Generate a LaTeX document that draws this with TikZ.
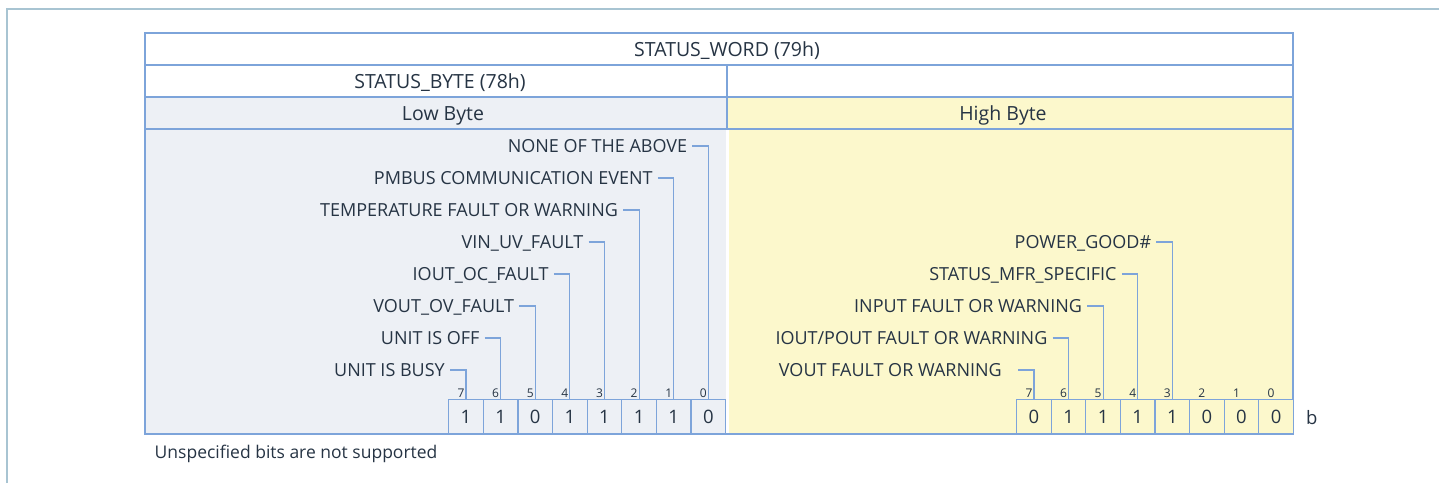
\documentclass[tikz,border=0pt]{standalone}
\usepackage{fontspec}
\setmainfont{Open Sans}
\definecolor{ink}{RGB}{38,52,68}
\definecolor{rule}{RGB}{125,164,218}
\definecolor{pageframe}{RGB}{168,196,210}
\definecolor{lowfill}{RGB}{237,240,245}
\definecolor{highfill}{RGB}{252,248,204}

\tikzset{
  cell/.style={draw=rule, line width=1.3pt, inner sep=0pt, outer sep=0pt, anchor=north west},
  panel/.style={inner sep=0pt, outer sep=0pt, anchor=north west},
  head/.style={text=ink, inner sep=0pt, text height=13.9pt, text depth=0pt,
               font=\fontsize{19.5}{22}\selectfont},
  flag/.style={text=ink, inner sep=0pt, anchor=east, text height=12.9pt, text depth=0pt,
               font=\fontsize{18}{20}\selectfont},
  bitbox/.style={draw=rule, line width=1.2pt, inner sep=0pt, outer sep=0pt, anchor=north west,
               minimum width=34.6pt, minimum height=34.2pt, text=ink,
               text height=13.2pt, text depth=0pt, font=\fontsize{18.5}{20}\selectfont},
  bitnum/.style={text=ink, inner sep=0pt, anchor=base, font=\fontsize{12}{13}\selectfont},
  leader/.style={draw=rule, line width=1.1pt},
}

\begin{document}
\begin{tikzpicture}[x=1pt, y=-1pt]
\useasboundingbox (0,0) rectangle (1439,483);

% page frame
\draw[pageframe, line width=1.5pt] (7,483) -- (7,9) -- (1439,9);

% body panels
\node[panel, fill=lowfill, minimum width=581pt, minimum height=305pt] (lowbody) at (145,129) {};
\node[panel, fill=highfill, minimum width=564pt, minimum height=305pt] (highbody) at (729,129) {};
\draw[rule, line width=1.3pt] (lowbody.north west) |- (highbody.south east) -- (highbody.north east);

% header rows
\node[cell, fill=white, minimum width=1148pt, minimum height=32pt] (word) at (145,33) {};
\node[cell, fill=white, minimum width=582pt, minimum height=32pt] (sbyte) at (145,65) {};
\node[cell, fill=white, minimum width=566pt, minimum height=32pt] (sbyterest) at (727,65) {};
\node[cell, fill=lowfill, minimum width=582pt, minimum height=32pt] (lowhead) at (145,97) {};
\node[cell, fill=highfill, minimum width=566pt, minimum height=32pt] (highhead) at (727,97) {};

\node[head] (wordtxt) at (727,49.5) {STATUS\_WORD (79h)};
\node[head] (sbytetxt) at (440,81.5) {STATUS\_BYTE (78h)};
\node[head] (lowtxt) at (443,113.5) {Low Byte};
\node[head] (hightxt) at (1003,113.5) {High Byte};

% bit cells, low byte
\foreach \k/\v in {0/1,1/1,2/0,3/1,4/1,5/1,6/1,7/0} {
  \pgfmathtruncatemacro\bitn{7-\k}
  \node[bitbox, fill=lowfill] (lo\bitn) at ({448.7+\k*34.625},399.3) {\v};
  \node[bitnum] (lonum\bitn) at ({448.7+\k*34.625+12.3},397) {\bitn};
}
% bit cells, high byte
\foreach \k/\v in {0/0,1/1,2/1,3/1,4/1,5/0,6/0,7/0} {
  \pgfmathtruncatemacro\bitn{7-\k}
  \node[bitbox, fill=highfill] (hi\bitn) at ({1016.7+\k*34.58},399.3) {\v};
  \node[bitnum] (hinum\bitn) at ({1016.7+\k*34.58+12.3},397) {\bitn};
}
\node[text=ink, inner sep=0pt, anchor=base west, font=\fontsize{18.5}{20}\selectfont] (radix) at (1306,424) {b};

% low byte flags
\foreach \b/\y/\t in {7/370/{UNIT IS BUSY}, 6/338/{UNIT IS OFF}, 5/306/{VOUT\_OV\_FAULT},
                      4/274/{IOUT\_OC\_FAULT}, 3/242/{VIN\_UV\_FAULT},
                      2/210/{TEMPERATURE FAULT OR WARNING}, 1/178/{PMBUS COMMUNICATION EVENT},
                      0/146/{NONE OF THE ABOVE}} {
  \path (lo\b.north) ++(-21,0) coordinate (tmp);
  \coordinate (ypos) at (0,\y);
  \node[flag] (loflag\b) at (tmp |- ypos) {\t};
  \draw[leader] ([xshift=5pt]loflag\b.east) -| (lo\b.north);
}

% high byte flags
\foreach \b/\y/\g/\t in {6/338/21/{IOUT/POUT FAULT OR WARNING}, 5/306/21/{INPUT FAULT OR WARNING},
                         4/274/21/{STATUS\_MFR\_SPECIFIC}, 3/242/21/{POWER\_GOOD\#},
                         7/370/32/{VOUT FAULT OR WARNING}} {
  \path (hi\b.north) ++(-\g,0) coordinate (tmp);
  \coordinate (ypos) at (0,\y);
  \node[flag] (hiflag\b) at (tmp |- ypos) {\t};
  \draw[leader] ([xshift=\g pt-16pt]hiflag\b.east) -| (hi\b.north);
}

% footnote
\node[text=ink, inner sep=0pt, anchor=base west, font=\fontsize{17.5}{20}\selectfont] (note) at (154.5,458) {Unspecified bits are not supported};
\end{tikzpicture}
\end{document}
